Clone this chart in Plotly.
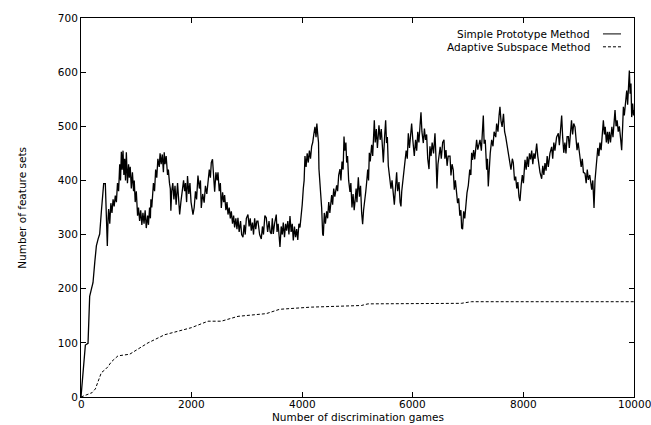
import plotly.graph_objects as go

# ---------------- data ----------------
sp_name = "Simple Prototype Method"
ad_name = "Adaptive Subspace Method"

sp_pairs = [
 (0,0),(40,45),(79,96),(127,99),(157,186),(190,200),(217,211),(250,250),(278,279),(310,292),(338,301),(370,345),(395,380),(410,394),(440,394),(458,341),(476,279),(490,330),(500,347),(520,320),(540,358),(560,340),(580,365),(600,352),(620,372),(640,360),(660,395),(680,380),(700,430),(715,400),(730,453),(745,420),(760,455),(775,410),(790,440),(805,400),(820,452),(840,395),(860,430),(873,405),(890,425),(910,385),(930,415),(950,380),(963,400),(980,360),(1000,380),(1023,335),(1040,350),(1060,325),(1080,345),(1100,318),(1120,340),(1140,320),(1160,345),(1180,312),(1204,335),(1220,318),(1240,350),(1255,330),(1264,365),(1280,350),(1294,384),(1310,395),(1330,380),(1350,420),(1370,405),(1390,440),(1415,425),(1430,450),(1450,430),(1470,448),(1490,415),(1505,452),(1520,430),(1540,445),(1565,410),(1580,420),(1600,395),(1615,385),(1625,344),(1640,380),(1660,395),(1680,365),(1700,390),(1720,355),(1746,395),(1760,370),(1784,337),(1806,360),(1830,380),(1855,400),(1874,380),(1890,395),(1910,360),(1926,408),(1950,375),(1970,395),(1990,360),(2025,337),(2047,350),(2070,380),(2090,365),(2115,409),(2140,385),(2160,400),(2175,349),(2200,375),(2227,359),(2250,390),(2275,375),(2296,403),(2320,420),(2340,405),(2356,433),(2378,439),(2395,410),(2417,379),(2440,415),(2460,400),(2477,415),(2500,380),(2520,395),(2537,349),(2560,378),(2580,360),(2597,373),(2620,345),(2640,360),(2658,337),(2680,350),(2700,330),(2718,343),(2740,320),(2760,335),(2778,313),(2800,330),(2820,310),(2838,331),(2860,305),(2885,325),(2905,300),(2929,295),(2950,318),(2970,300),(2990,330),(3019,337),(3040,315),(3060,330),(3079,307),(3100,322),(3120,300),(3140,330),(3160,310),(3180,325),(3200,325),(3230,300),(3260,292),(3281,315),(3300,300),(3325,335),(3350,331),(3375,305),(3400,325),(3420,305),(3441,301),(3460,330),(3477,301),(3500,320),(3531,337),(3545,305),(3565,320),(3598,277),(3620,315),(3640,300),(3658,322),(3680,295),(3700,320),(3718,307),(3740,325),(3760,300),(3779,334),(3800,305),(3820,320),(3839,289),(3860,315),(3880,295),(3900,310),(3920,290),(3940,320),(3960,313),(3980,330),(4000,355),(4020,385),(4035,400),(4050,445),(4070,425),(4090,450),(4110,433),(4130,455),(4150,440),(4171,463),(4190,470),(4210,485),(4231,499),(4250,480),(4265,505),(4279,487),(4295,470),(4303,421),(4320,400),(4335,370),(4352,349),(4370,301),(4382,298),(4400,340),(4420,320),(4442,343),(4460,330),(4480,360),(4500,340),(4533,373),(4550,355),(4570,385),(4590,370),(4623,391),(4640,380),(4660,410),(4683,421),(4700,400),(4720,435),(4740,420),(4756,481),(4770,455),(4790,470),(4804,433),(4820,445),(4840,400),(4864,379),(4880,395),(4900,350),(4920,375),(4940,345),(4955,361),(4975,385),(4990,360),(5015,406),(5035,370),(5055,390),(5075,340),(5093,319),(5110,345),(5130,370),(5150,380),(5166,397),(5185,420),(5200,400),(5214,451),(5230,435),(5256,466),(5275,445),(5290,490),(5304,511),(5320,470),(5340,495),(5360,460),(5388,502),(5410,475),(5430,495),(5450,463),(5467,433),(5490,480),(5509,511),(5525,469),(5540,480),(5557,427),(5580,410),(5605,385),(5625,400),(5645,370),(5666,355),(5690,390),(5708,415),(5725,380),(5750,397),(5770,360),(5786,352),(5800,380),(5820,397),(5840,410),(5859,433),(5880,455),(5900,440),(5919,487),(5940,460),(5960,480),(5979,505),(6000,475),(6027,445),(6050,475),(6070,455),(6090,490),(6110,470),(6130,500),(6148,526),(6165,490),(6190,469),(6210,496),(6230,475),(6250,485),(6270,440),(6293,421),(6310,463),(6330,445),(6350,470),(6375,450),(6401,487),(6420,440),(6437,385),(6455,430),(6475,451),(6495,462),(6515,440),(6540,470),(6564,475),(6580,440),(6600,456),(6620,427),(6640,445),(6673,445),(6690,409),(6710,430),(6732,419),(6750,383),(6770,400),(6793,377),(6810,358),(6830,367),(6850,335),(6870,345),(6883,312),(6900,310),(6920,343),(6940,330),(6960,360),(6980,377),(7004,391),(7030,420),(7050,410),(7064,451),(7080,438),(7100,456),(7120,439),(7140,465),(7154,475),(7175,457),(7195,470),(7215,475),(7240,455),(7260,490),(7275,520),(7290,468),(7310,475),(7335,420),(7350,440),(7365,389),(7380,420),(7400,450),(7426,475),(7450,463),(7470,490),(7500,480),(7516,505),(7540,490),(7560,520),(7576,536),(7595,510),(7615,499),(7640,523),(7660,490),(7680,481),(7700,468),(7727,451),(7750,444),(7775,420),(7800,440),(7817,433),(7840,400),(7860,407),(7880,385),(7900,397),(7920,370),(7938,362),(7960,391),(7980,410),(8000,395),(8029,438),(8050,420),(8070,444),(8090,425),(8110,450),(8130,439),(8150,455),(8170,430),(8190,450),(8210,440),(8240,468),(8260,445),(8280,430),(8300,415),(8330,403),(8350,427),(8370,410),(8390,432),(8410,418),(8430,445),(8450,425),(8480,450),(8511,462),(8530,440),(8550,470),(8570,455),(8600,480),(8632,487),(8650,465),(8670,490),(8692,520),(8710,480),(8730,451),(8750,470),(8770,450),(8790,481),(8813,481),(8830,460),(8850,495),(8870,511),(8890,485),(8910,505),(8933,499),(8950,470),(8970,456),(8990,470),(9010,450),(9024,444),(9045,425),(9065,440),(9085,415),(9114,413),(9135,395),(9155,420),(9175,401),(9200,410),(9220,390),(9235,383),(9255,400),(9277,349),(9295,400),(9310,420),(9325,438),(9345,460),(9365,445),(9385,470),(9405,456),(9425,490),(9446,511),(9465,485),(9480,499),(9500,470),(9520,490),(9536,468),(9555,490),(9575,470),(9600,499),(9620,480),(9640,510),(9657,530),(9675,500),(9695,511),(9715,490),(9735,500),(9760,475),(9777,456),(9795,500),(9808,536),(9825,520),(9845,545),(9868,566),(9885,540),(9900,585),(9916,603),(9930,560),(9945,579),(9958,517),(9976,542),(9990,520),(10000,530),
]
sp_games = [p[0] for p in sp_pairs]
sp_values = [p[1] for p in sp_pairs]

ad_games = [0, 60, 200, 260, 300, 368, 430, 488, 549, 620, 669, 880, 1030, 1212, 1513, 1754, 1995,
            2296, 2538, 2839, 3351, 3592, 4165, 5069, 5190, 6877, 7058, 10000]
ad_values = [0, 2, 8, 15, 25, 45, 50, 56, 65, 72, 76, 79, 88, 100, 115, 121, 128,
             140, 140, 149, 154, 162, 166, 169, 172, 173, 176, 176]

x_ticks = [0, 2000, 4000, 6000, 8000, 10000]
y_ticks = [0, 100, 200, 300, 400, 500, 600, 700]
x_title = "Number of discrimination games"
y_title = "Number of feature sets"

# ---------------- figure ----------------
FONT = "DejaVu Sans, Liberation Sans, Arial, sans-serif"
FS = 10.5

fig = go.Figure()
fig.add_trace(go.Scatter(x=sp_games, y=sp_values, mode="lines", name=sp_name,
                         line=dict(color="black", width=1.3), showlegend=False, hoverinfo="skip"))
fig.add_trace(go.Scatter(x=ad_games, y=ad_values, mode="lines", name=ad_name,
                         line=dict(color="black", width=1, dash="3px,2px"), showlegend=False,
                         hoverinfo="skip"))

axis_common = dict(showgrid=False, zeroline=False, showline=True, linecolor="black", linewidth=1,
                   mirror="ticks", ticks="inside", ticklen=5, tickcolor="black", tickwidth=1,
                   ticklabeloverflow="allow",
                   tickfont=dict(family=FONT, size=FS, color="black"))
# x tick labels are placed as text just under the axis (tight gnuplot spacing)
fig.update_xaxes(range=[0, 10000], tickvals=x_ticks, showticklabels=False, **axis_common)
fig.update_yaxes(range=[0, 700], tickvals=y_ticks, ticktext=[str(t) for t in y_ticks], **axis_common)
for t in x_ticks:
    fig.add_annotation(x=t, y=0, xref="x", yref="paper", text=str(t), showarrow=False,
                       xanchor="center", yanchor="top", yshift=0, borderpad=0,
                       font=dict(family=FONT, size=FS, color="black"))

# legend drawn gnuplot style: right-aligned text, line sample to the right
leg_rows = [(sp_name, "solid", 0.958), (ad_name, "3px,2px", 0.924)]
for name, dash, yp in leg_rows:
    fig.add_annotation(x=9222, y=yp, xref="x", yref="paper", text=name, showarrow=False,
                       xanchor="right", yanchor="middle", borderpad=0,
                       font=dict(family=FONT, size=FS, color="black"))
    fig.add_shape(type="line", xref="x", yref="paper", x0=9439, x1=9765, y0=yp, y1=yp,
                  line=dict(color="black", width=1, dash=dash))

fig.add_annotation(x=0.5, y=0, xref="paper", yref="paper", text=x_title, showarrow=False,
                   xanchor="center", yanchor="bottom", yshift=-27, borderpad=0,
                   font=dict(family=FONT, size=FS, color="black"))
fig.add_annotation(x=-0.108, y=0.5, xref="paper", yref="paper", text=y_title, showarrow=False,
                   textangle=-90, xanchor="center", yanchor="middle", borderpad=0,
                   font=dict(family=FONT, size=FS, color="black"))

fig.update_layout(width=651, height=425, margin=dict(l=81, r=17, t=16, b=28),
                  paper_bgcolor="white", plot_bgcolor="white", hovermode=False,
                  font=dict(family=FONT, size=FS, color="black"))

# remove the default 8px page margin so the figure sits at the window's corner; no modebar
fig.write_html("out.html", config={"displayModeBar": False},
               post_script="document.body.style.margin='0px';document.body.style.overflow='hidden';")
